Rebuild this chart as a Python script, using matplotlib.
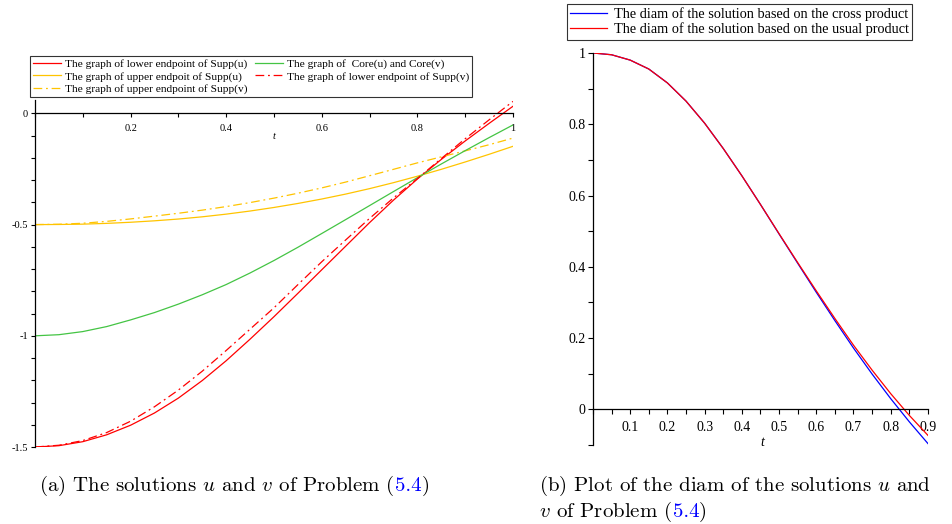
import matplotlib
matplotlib.use("Agg")
from matplotlib import pyplot as plt
from matplotlib.ticker import FixedLocator, MultipleLocator, NullFormatter

# (a) endpoints of the supports and the core
t_a = [0.0, 0.05, 0.1, 0.15, 0.2, 0.25, 0.3, 0.35, 0.4, 0.45, 0.5,
       0.55, 0.6, 0.65, 0.7, 0.75, 0.8, 0.85, 0.9, 0.95, 1.0]
low_u = [-1.5, -1.494, -1.476, -1.445, -1.402, -1.347, -1.280, -1.201, -1.112, -1.015, -0.914,
         -0.809, -0.703, -0.597, -0.491, -0.390, -0.295, -0.207, -0.124, -0.045, 0.032]
low_v = [-1.5, -1.492, -1.471, -1.435, -1.384, -1.319, -1.244, -1.159, -1.066, -0.970, -0.874,
         -0.770, -0.667, -0.569, -0.472, -0.380, -0.293, -0.203, -0.114, -0.029, 0.054]
core = [-1.0, -0.995, -0.981, -0.9585, -0.9285, -0.8955, -0.8575, -0.8155, -0.7695, -0.7175, -0.6615,
        -0.602, -0.540, -0.4775, -0.4145, -0.3515, -0.289, -0.2275, -0.1675, -0.109, -0.052]
up_u = [-0.5, -0.4995, -0.498, -0.4945, -0.4895, -0.483, -0.475, -0.465, -0.453, -0.439, -0.423,
        -0.405, -0.385, -0.3628, -0.3383, -0.3115, -0.2825, -0.2515, -0.2185, -0.184, -0.148]
up_v = [-0.5, -0.4985, -0.494, -0.4855, -0.4745, -0.462, -0.449, -0.435, -0.419, -0.401, -0.381,
        -0.359, -0.335, -0.3088, -0.2803, -0.2515, -0.2225, -0.1955, -0.1685, -0.141, -0.111]

# (b) diameters
t_b = [0.0, 0.05, 0.1, 0.15, 0.2, 0.25, 0.3, 0.35, 0.4, 0.45,
       0.5, 0.55, 0.6, 0.65, 0.7, 0.75, 0.8, 0.85, 0.9]
diam_cross = [1.0, 0.995, 0.980, 0.955, 0.916, 0.865, 0.803, 0.732, 0.6555, 0.575,
              0.492, 0.410, 0.3285, 0.249, 0.172, 0.099, 0.030, -0.035, -0.096]
diam_usual = [1.0, 0.995, 0.980, 0.955, 0.916, 0.865, 0.803, 0.732, 0.6555, 0.575,
              0.493, 0.412, 0.3325, 0.255, 0.180, 0.110, 0.044, -0.017, -0.073]

a_xticks = [0.2, 0.4, 0.6, 0.8, 1.0]
a_xlabels = ['0.2', '0.4', '0.6', '0.8', '1']
a_yticks = [0, -0.5, -1, -1.5]
a_ylabels = ['0', '-0.5', '-1', '-1.5']
b_xticks = [0.1, 0.2, 0.3, 0.4, 0.5, 0.6, 0.7, 0.8, 0.9]
b_xlabels = ['0.1', '0.2', '0.3', '0.4', '0.5', '0.6', '0.7', '0.8', '0.9']
b_yticks = [0, 0.2, 0.4, 0.6, 0.8, 1.0]
b_ylabels = ['0', '0.2', '0.4', '0.6', '0.8', '1']

plt.rcParams['font.family'] = ['Liberation Serif', 'DejaVu Serif']
plt.rcParams['mathtext.fontset'] = 'cm'

RED = '#ff0000'
YEL = '#ffc400'
GRN = '#44c444'
BLU = '#0000ff'
DD = (7, 3, 1.5, 3)

fig = plt.figure(figsize=(9.53, 5.24), dpi=100)


def maple_axes(ax):
    for s in ['top', 'right']:
        ax.spines[s].set_visible(False)
    ax.spines['left'].set_position(('data', 0))
    ax.spines['bottom'].set_position(('data', 0))
    for s in ['left', 'bottom']:
        ax.spines[s].set_linewidth(0.9)


# ---- left panel
ax1 = fig.add_axes([0.0367, 0.1469, 0.5016, 0.6622])
ax1.plot(t_a, low_u, color=RED, lw=0.9, label='The graph of lower endpoint of Supp(u)')
ax1.plot(t_a, up_u, color=YEL, lw=0.9, label='The graph of upper endpoit of Supp(u)')
ax1.plot(t_a, up_v, color=YEL, lw=0.9, dashes=DD, label='The graph of upper endpoint of Supp(v)')
ax1.plot(t_a, core, color=GRN, lw=0.9, label='The graph of  Core(u) and Core(v)')
ax1.plot(t_a, low_v, color=RED, lw=0.9, dashes=DD, label='The graph of lower endpoint of Supp(v)')
ax1.set_xlim(0, 1)
ax1.set_ylim(-1.5, 0.06)
maple_axes(ax1)
ax1.xaxis.set_major_locator(FixedLocator(a_xticks))
ax1.set_xticklabels(a_xlabels)
ax1.xaxis.set_minor_locator(MultipleLocator(0.1))
ax1.yaxis.set_major_locator(FixedLocator(a_yticks))
ax1.set_yticklabels(a_ylabels)
ax1.yaxis.set_minor_locator(MultipleLocator(0.1))
ax1.yaxis.set_minor_formatter(NullFormatter())
ax1.tick_params(which='both', direction='out', length=3, width=0.8, labelsize=7.5, pad=5)
ax1.tick_params(axis='y', pad=2)
ax1.text(0.5, -0.105, 't', style='italic', fontsize=7.5, ha='center', va='center')
leg1 = ax1.legend(loc='lower left', bbox_to_anchor=(-0.0105, 1.009), ncol=2, fontsize=8.2,
                  frameon=True, fancybox=False, edgecolor='black', borderpad=0.25,
                  labelspacing=0.2, handlelength=2.45, handletextpad=0.35, columnspacing=0.7,
                  borderaxespad=0.0)
leg1.get_frame().set_linewidth(0.8)

# ---- right panel
ax2 = fig.add_axes([0.6222, 0.1508, 0.3515, 0.7481])
ax2.plot(t_b, diam_cross, color=BLU, lw=0.9, label='The diam of the solution based on the cross product')
ax2.plot(t_b, diam_usual, color=RED, lw=0.9, label='The diam of the solution based on the usual product')
ax2.set_xlim(0, 0.9)
ax2.set_ylim(-0.1, 1.0)
maple_axes(ax2)
ax2.xaxis.set_major_locator(FixedLocator(b_xticks))
ax2.set_xticklabels(b_xlabels)
ax2.xaxis.set_minor_locator(MultipleLocator(0.05))
ax2.yaxis.set_major_locator(FixedLocator(b_yticks))
ax2.set_yticklabels(b_ylabels)
ax2.yaxis.set_minor_locator(MultipleLocator(0.1))
ax2.yaxis.set_minor_formatter(NullFormatter())
ax2.tick_params(which='both', direction='out', length=3.5, width=0.8, labelsize=10, pad=5)
ax2.tick_params(axis='y', pad=2)
ax2.text(0.454, -0.092, 't', style='italic', fontsize=10, ha='center', va='center')
leg2 = ax2.legend(loc='lower center', bbox_to_anchor=(0.437, 1.033), fontsize=10.3,
                  frameon=True, fancybox=False, edgecolor='black', borderpad=0.25,
                  labelspacing=0.1, handlelength=2.6, handletextpad=0.45,
                  borderaxespad=0.0)
leg2.get_frame().set_linewidth(0.8)


# ---- captions with the blue reference number
def caption(x, y, pieces, size=15):
    fig.canvas.draw()
    r = fig.canvas.get_renderer()
    inv = fig.transFigure.inverted()
    for txt, col in pieces:
        t = fig.text(x, y, txt, color=col, fontsize=size, ha='left', va='baseline',
                     family='cmr10')
        bb = t.get_window_extent(renderer=r)
        x = inv.transform((bb.x1, bb.y0))[0]


caption(0.041, 0.063, [(r'(a) The solutions $u$ and $v$ of Problem (', 'black'),
                       ('5.4', BLU), (')', 'black')])
caption(0.566, 0.063, [(r'(b) Plot of the diam of the solutions $u$ and', 'black')])
caption(0.566, 0.014, [(r'$v$ of Problem (', 'black'), ('5.4', BLU), (')', 'black')])

fig.savefig('out.png', dpi=100)
